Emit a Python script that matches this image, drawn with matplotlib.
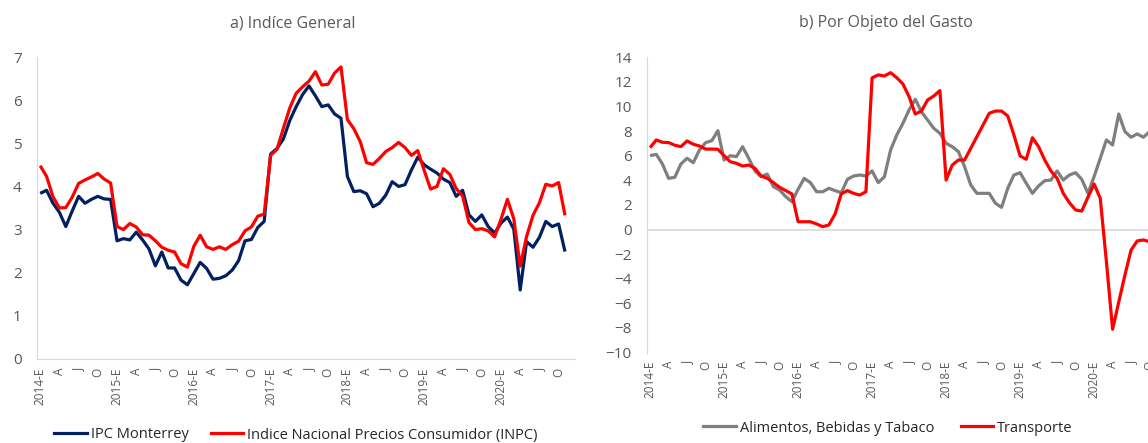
import matplotlib
matplotlib.use("Agg")
import matplotlib.pyplot as plt
from matplotlib.lines import Line2D

plt.rcParams['font.family'] = ['Open Sans', 'DejaVu Sans']

# Annual inflation (%), monthly from January 2014
ipc_monterrey = [3.84, 3.91, 3.61, 3.40, 3.07, 3.43, 3.77, 3.61, 3.70, 3.77, 3.71, 3.70,
                 2.74, 2.79, 2.76, 2.94, 2.76, 2.55, 2.16, 2.48, 2.11, 2.11, 1.83, 1.72,
                 1.98, 2.24, 2.10, 1.85, 1.87, 1.93, 2.06, 2.28, 2.74, 2.77, 3.05, 3.19,
                 4.75, 4.88, 5.10, 5.53, 5.85, 6.13, 6.33, 6.10, 5.85, 5.89, 5.68, 5.58,
                 4.23, 3.88, 3.90, 3.83, 3.53, 3.61, 3.80, 4.11, 4.00, 4.04, 4.38, 4.68,
                 4.50, 4.40, 4.31, 4.17, 4.09, 3.77, 3.91, 3.34, 3.19, 3.34, 3.07, 2.92,
                 3.15, 3.29, 3.01, 1.60, 2.72, 2.59, 2.82, 3.19, 3.07, 3.13, 2.49]

inpc = [4.48, 4.23, 3.76, 3.50, 3.51, 3.75, 4.07, 4.15, 4.22, 4.30, 4.17, 4.08,
        3.07, 3.00, 3.14, 3.06, 2.88, 2.87, 2.74, 2.59, 2.52, 2.48, 2.21, 2.13,
        2.61, 2.87, 2.60, 2.54, 2.60, 2.54, 2.65, 2.73, 2.97, 3.06, 3.31, 3.36,
        4.72, 4.86, 5.35, 5.82, 6.16, 6.31, 6.44, 6.66, 6.35, 6.37, 6.63, 6.77,
        5.55, 5.34, 5.04, 4.55, 4.51, 4.65, 4.81, 4.90, 5.02, 4.90, 4.72, 4.83,
        4.37, 3.94, 4.00, 4.41, 4.28, 3.95, 3.78, 3.16, 3.00, 3.02, 2.97, 2.83,
        3.24, 3.70, 3.25, 2.15, 2.84, 3.33, 3.62, 4.05, 4.01, 4.09, 3.33]

alimentos = [6.00, 6.11, 5.33, 4.16, 4.24, 5.33, 5.79, 5.43, 6.46, 7.06, 7.22, 8.03,
             5.65, 6.00, 5.92, 6.73, 5.79, 4.76, 4.29, 4.51, 3.48, 3.21, 2.67, 2.26,
             3.27, 4.16, 3.81, 3.07, 3.07, 3.35, 3.16, 2.99, 4.08, 4.35, 4.43, 4.35,
             4.76, 3.81, 4.29, 6.46, 7.68, 8.63, 9.72, 10.59, 9.58, 8.90, 8.23, 7.82,
             7.01, 6.73, 6.33, 5.11, 3.62, 2.94, 2.94, 2.94, 2.13, 1.80, 3.35, 4.43,
             4.62, 3.76, 2.94, 3.54, 3.97, 4.02, 4.76, 4.02, 4.43, 4.62, 4.08, 2.94,
             4.30, 5.78, 7.28, 6.87, 9.39, 7.96, 7.50, 7.77, 7.50, 7.96]

transporte = [6.65, 7.28, 7.09, 7.07, 6.85, 6.74, 7.20, 6.93, 6.79, 6.54, 6.54, 6.52,
              6.00, 5.51, 5.38, 5.16, 5.24, 4.97, 4.35, 4.16, 3.81, 3.43, 3.16, 2.89,
              0.63, 0.63, 0.63, 0.45, 0.23, 0.37, 1.26, 2.89, 3.16, 2.94, 2.80, 3.07,
              12.33, 12.57, 12.48, 12.75, 12.34, 11.83, 10.80, 9.39, 9.63, 10.53, 10.85, 11.29,
              4.02, 5.24, 5.65, 5.65, 6.60, 7.55, 8.50, 9.45, 9.63, 9.63, 9.23, 7.68,
              5.98, 5.71, 7.46, 6.73, 5.65, 4.76, 4.16, 2.94, 2.18, 1.59, 1.50, 2.62,
              3.70, 2.54, -2.62, -8.11, -5.90, -3.70, -1.67, -0.93, -0.85, -0.99]

years = [2014, 2015, 2016, 2017, 2018, 2019, 2020]
quarter_marks = ['E', 'A', 'J', 'O']
tick_labels = [f"{y}-E" if m == 'E' else m for y in years for m in quarter_marks]

NAVY = '#002060'
RED = '#FF0000'
GREY = '#7F7F7F'
AXIS = '#D9D9D9'
TEXT = '#595959'

W, H = 1148, 443
fig = plt.figure(figsize=(W / 100, H / 100), dpi=100)


def px_axes(x0, x1, ytop, ybot):
    return fig.add_axes([x0 / W, (H - ybot) / H, (x1 - x0) / W, (ybot - ytop) / H])


def style(ax, n_slots):
    ax.set_xlim(-0.5, n_slots - 0.5)
    ticks = list(range(0, 3 * len(tick_labels), 3))
    ax.set_xticks(ticks)
    ax.set_xticklabels(tick_labels, rotation=90, fontsize=8.5, color=TEXT)
    ax.tick_params(axis='both', length=0, colors=TEXT)
    ax.tick_params(axis='x', pad=6)
    ax.tick_params(axis='y', pad=11, labelsize=11)
    for s in ('top', 'right'):
        ax.spines[s].set_visible(False)
    ax.spines['left'].set_color(AXIS)
    ax.spines['bottom'].set_color(AXIS)


line_kw = dict(linewidth=2.3, solid_joinstyle='round', solid_capstyle='butt')

# a) General index
ax1 = px_axes(37, 574.6, 57, 359)
ax1.plot(range(len(ipc_monterrey)), ipc_monterrey, color=NAVY, **line_kw)
ax1.plot(range(len(inpc)), inpc, color=RED, **line_kw)
ax1.set_ylim(0, 7)
ax1.set_yticks(range(0, 8))
style(ax1, 84)
fig.text(293 / W, 1 - 23 / H, 'a) Indíce General', ha='center', va='center',
         fontsize=11.5, color=TEXT)
fig.legend(handles=[Line2D([], [], color=NAVY, lw=2.3), Line2D([], [], color=RED, lw=2.3)],
           labels=['IPC Monterrey', 'Indice Nacional Precios Consumidor (INPC)'],
           loc='center', bbox_to_anchor=(296 / W, 1 - 435 / H), ncol=2, frameon=False,
           fontsize=10.5, handlelength=2.2, handletextpad=0.3, columnspacing=1.5,
           labelcolor='#262626', borderpad=0, borderaxespad=0)

# b) By spending category
ax2 = px_axes(647, 1165, 57.3, 352.5)
ax2.plot(range(len(alimentos)), alimentos, color=GREY, **line_kw)
ax2.plot(range(len(transporte)), transporte, color=RED, **line_kw)
ax2.set_ylim(-10, 14)
ax2.set_yticks(range(-10, 15, 2))
style(ax2, 84)
ax2.spines['bottom'].set_visible(False)
ax2.axhline(0, color=AXIS, linewidth=1.2, zorder=0)
fig.text(886 / W, 1 - 23 / H, 'b) Por Objeto del Gasto', ha='center', va='center',
         fontsize=11.5, color=TEXT)
fig.legend(handles=[Line2D([], [], color=GREY, lw=2.3), Line2D([], [], color=RED, lw=2.3)],
           labels=['Alimentos, Bebidas y Tabaco', 'Transporte'],
           loc='center', bbox_to_anchor=(888 / W, 1 - 428 / H), ncol=2, frameon=False,
           fontsize=10.5, handlelength=2.2, handletextpad=0.3, columnspacing=1.8,
           labelcolor='#262626', borderpad=0, borderaxespad=0)

fig.savefig('out.png', dpi=100)
